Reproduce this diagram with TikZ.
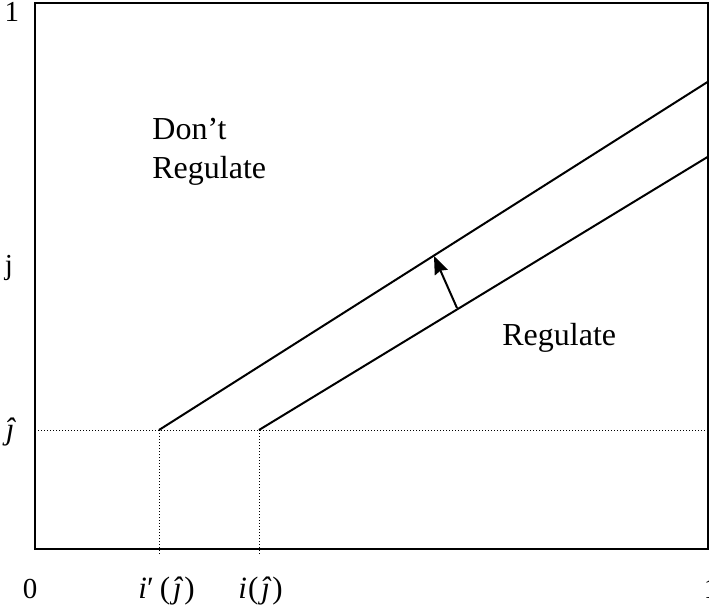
\documentclass[tikz,border=0pt]{standalone}
\usepackage{fontspec}
\setmainfont{Liberation Serif}
\usetikzlibrary{arrows.meta}

\begin{document}
\begin{tikzpicture}[>={Stealth[length=9pt,width=7pt,inset=1pt]},x=0.5pt,y=-0.5pt]
\tikzstyle{txt}=[inner sep=0pt,font=\fontsize{16}{19}\selectfont]
\tikzstyle{num}=[inner sep=0pt,font=\fontsize{14.5}{17}\selectfont]
\tikzstyle{mth}=[inner sep=0pt,font=\fontsize{15.5}{18}\selectfont]
\tikzstyle{guide}=[line width=0.5pt,dash pattern=on 0.5pt off 1pt]
\tikzstyle{bound}=[line width=1pt]
\useasboundingbox (0,0) rectangle (709,605);
\coordinate (ll) at (35,549);
\coordinate (ur) at (707.5,3);
\draw[bound] (ll) rectangle (ur);
% j-hat level and its projections
\coordinate (hl) at (35,430);
\coordinate (hr) at (707.5,430);
\coordinate (a1) at (159,430);
\coordinate (a2) at (259,430);
\coordinate (b1) at (159,556);
\coordinate (b2) at (259,556);
\draw[guide] (hl) -- (hr);
\draw[guide] (a1) -- (b1);
\draw[guide] (a2) -- (b2);
% the two boundaries and the shift
\coordinate (e1) at (707.5,82);
\coordinate (e2) at (707.5,157);
\draw[bound] (a1) -- (e1);
\draw[bound] (a2) -- (e2);
\coordinate (p) at (457,308);
\coordinate (q) at (434,256);
\draw[->,bound] (p) -- (q);
% labels
\node[num,anchor=base] (one) at (12,22) {1};
\node[num,anchor=base] (jlab) at (9,275) {j};
\node[mth,anchor=base] (jhat) at (11,439) {\textit{ĵ}};
\node[txt,anchor=base west] (dont) at (152,140) {Don’t};
\node[txt,anchor=base west] (reg) at (152,178) {Regulate};
\node[txt,anchor=base west] (regr) at (502,345) {Regulate};
\node[num,anchor=base] (zero) at (30,598) {0};
\node[mth,anchor=base west] (ip) at (138,598) {\textit{i}′\kern3pt(\kern1.5pt\textit{ĵ}\kern0.5pt)};
\node[mth,anchor=base west] (i) at (238,598) {\textit{i}\kern0.5pt(\kern1.5pt\textit{ĵ}\kern0.5pt)};
\node[num,anchor=base] (oner) at (711,598) {1};
\end{tikzpicture}
\end{document}
